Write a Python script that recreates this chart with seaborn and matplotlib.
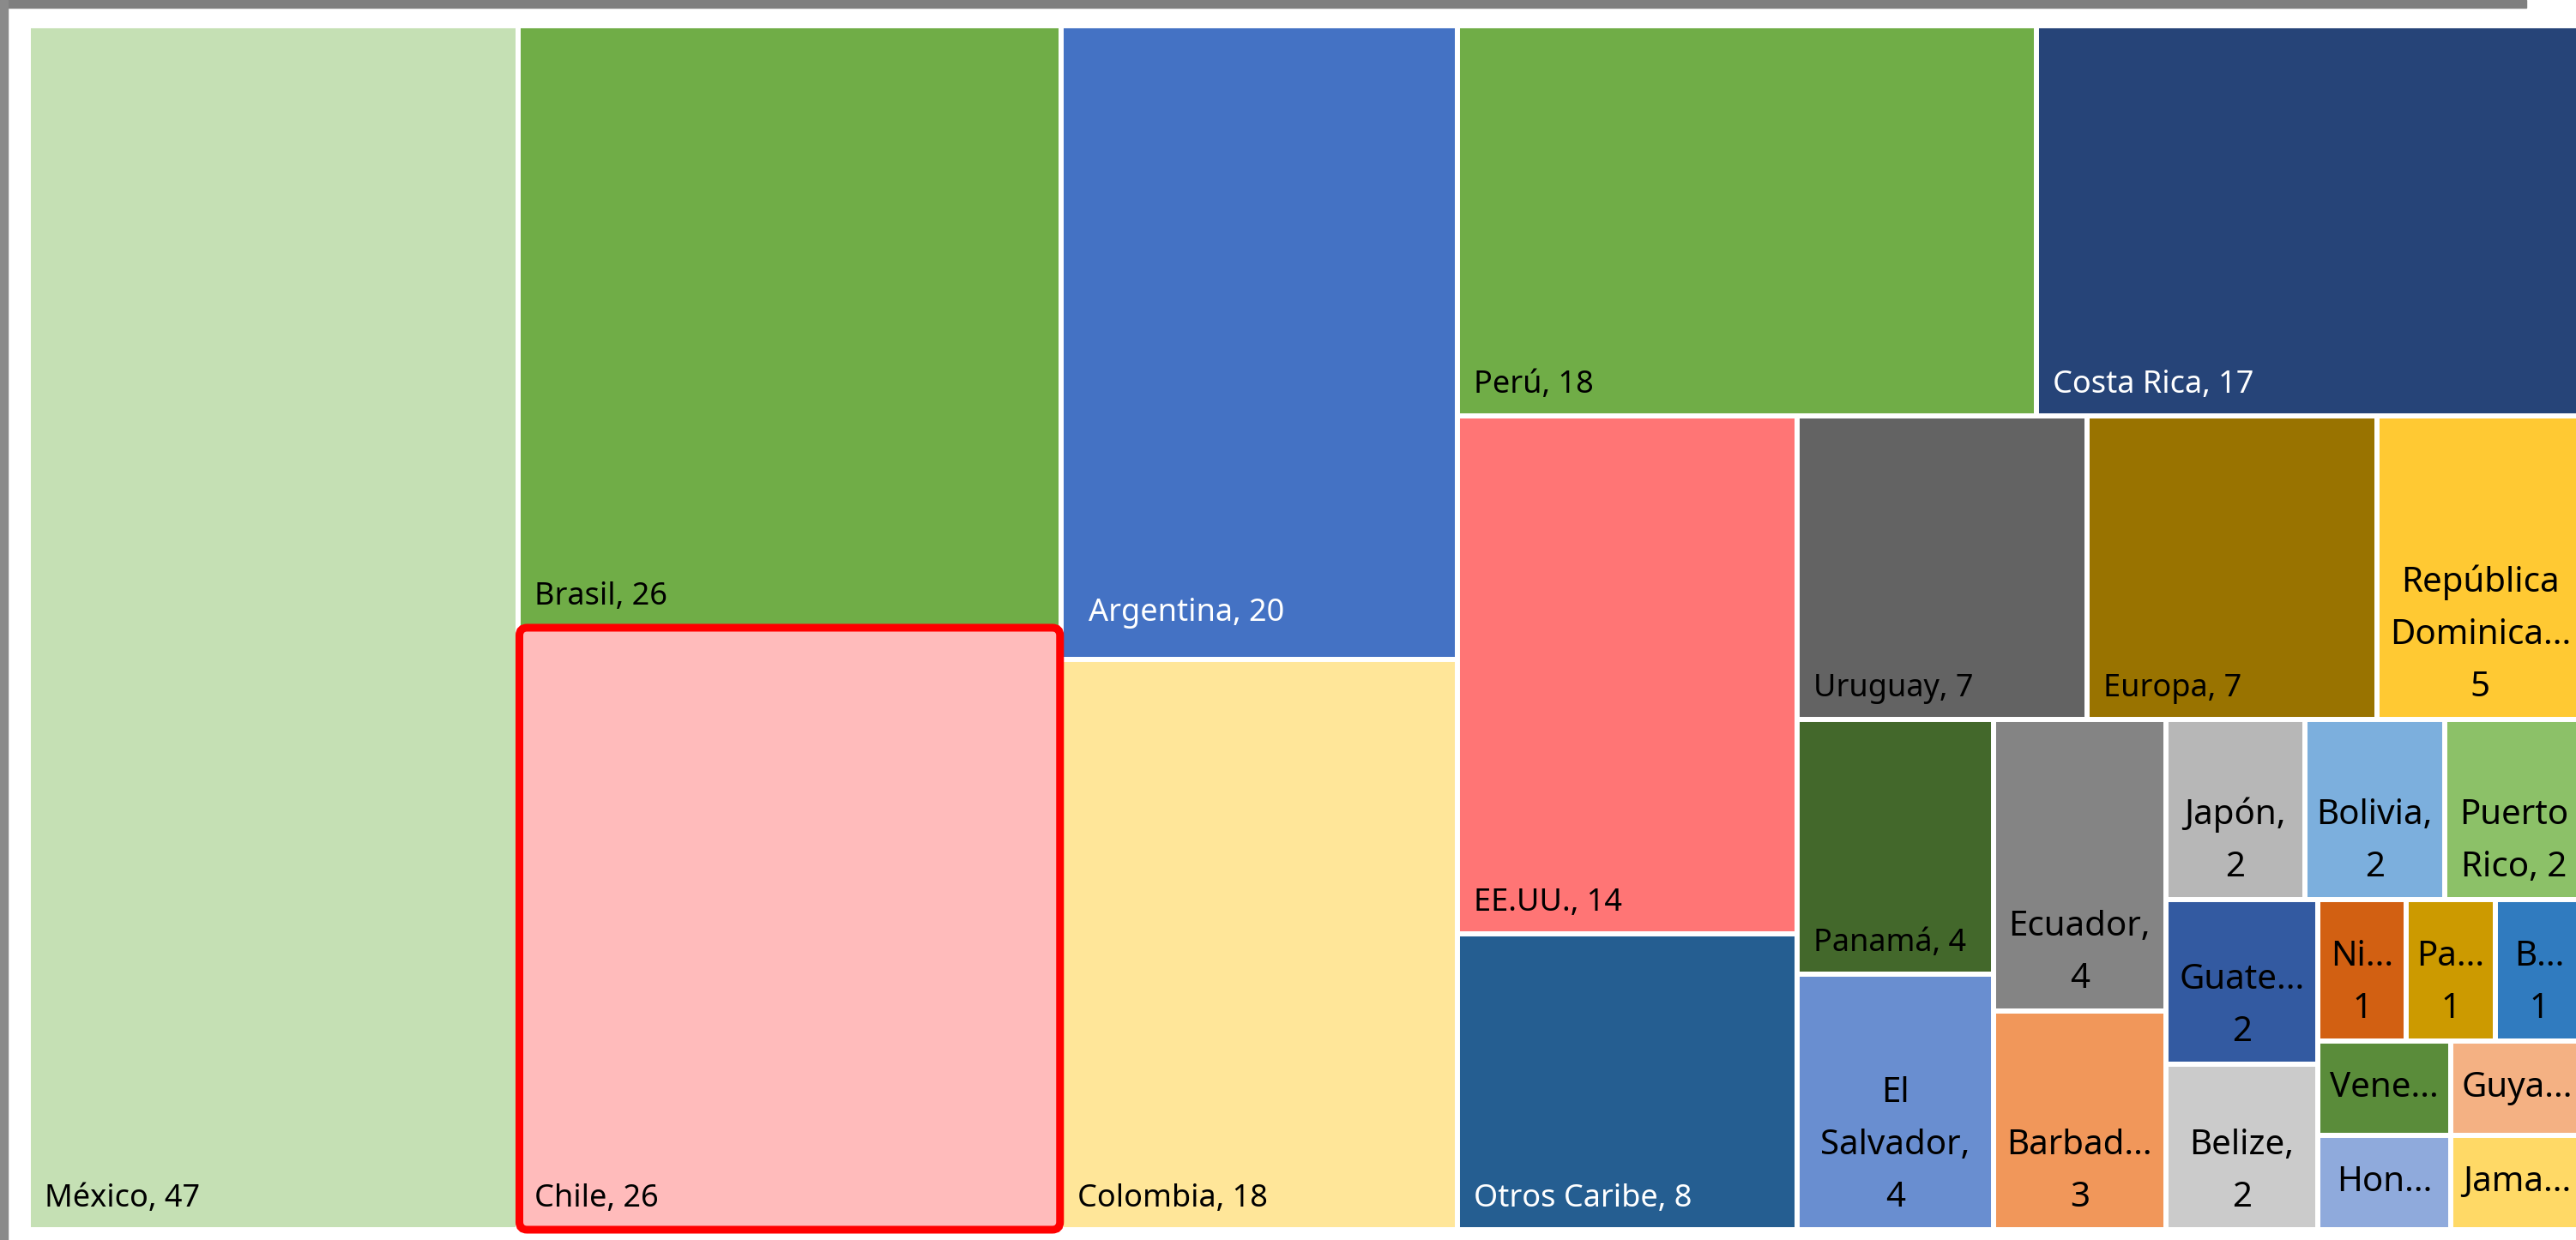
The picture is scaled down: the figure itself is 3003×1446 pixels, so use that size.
#Treemap de paises (estilo Excel) hecho con matplotlib + seaborn
#No hay treemap en seaborn, asi que armo las cajas a mano con un squarify por tiras
import matplotlib
matplotlib.use("Agg")
import matplotlib.pyplot as plt
from matplotlib.patches import Rectangle, FancyBboxPatch
import seaborn as sns

#Datos, de mayor a menor (el orden en que Excel los reparte)
paises = ["México", "Brasil", "Chile", "Argentina", "Colombia", "Perú", "Costa Rica",
          "EE.UU.", "Otros Caribe", "Uruguay", "Europa", "República Dominicana",
          "Panamá", "El Salvador", "Ecuador", "Barbados", "Japón", "Bolivia",
          "Puerto Rico", "Guatemala", "Belize", "Nicaragua", "Paraguay", "B...",
          "Venezuela", "Honduras", "Guyana", "Jamaica"]
valores = [47, 26, 26, 20, 18, 18, 17, 14, 8, 7, 7, 5, 4, 4, 4, 3,
           2, 2, 2, 2, 2, 1, 1, 1, 1, 1, 1, 1]
#Textos tal cual salen en el grafico (Excel corta los nombres que no caben)
etiquetas = ["México, 47", "Brasil, 26", "Chile, 26", "Argentina, 20", "Colombia, 18",
             "Perú, 18", "Costa Rica, 17", "EE.UU., 14", "Otros Caribe, 8", "Uruguay, 7",
             "Europa, 7", "República\nDominica...\n5", "Panamá, 4", "El\nSalvador,\n4",
             "Ecuador,\n4", "Barbad...\n3", "Japón,\n2", "Bolivia,\n2", "Puerto\nRico, 2",
             "Guate...\n2", "Belize,\n2", "Ni...\n1", "Pa...\n1", "B...\n1",
             "Vene...", "Hon...", "Guya...", "Jama..."]
colores = ["#C5E0B4", "#70AD47", "#FFBBBB", "#4472C4", "#FFE699", "#70AD47", "#264478",
           "#FF7575", "#255E91", "#636363", "#997300", "#FFC933", "#43682B", "#698ED0",
           "#848484", "#F1975A", "#B7B7B7", "#7CAFDD", "#8CC168", "#335AA1", "#CBCBCB",
           "#D26012", "#CC9A00", "#307BBF", "#5A8C3A", "#8FAADC", "#F4B183", "#FFD966"]
texto_blanco = ["Argentina", "Costa Rica", "Otros Caribe"]
#Cuantas cajas entran en cada tira del treemap
tiras = [1, 2, 2, 2, 2, 3, 2, 2, 3, 2, 3, 2, 2]
destacado = "Chile"

def layout(vals, tiras, w, h):
    #Cada tira va pegada al lado mas corto de lo que queda libre,
    #la ultima llena el hueco cortando a lo largo
    escala = w * h / sum(vals)
    x, y = 0.0, 0.0
    cajas = []
    i = 0
    for k, n in enumerate(tiras):
        grupo = vals[i:i + n]
        s = sum(grupo)
        if k == len(tiras) - 1:
            columna = h >= w
        else:
            columna = h <= w
        if columna:
            cw = s * escala / h
            yy = y
            for v in grupo:
                hh = h * v / s
                cajas.append((x, yy, cw, hh))
                yy += hh
            x += cw
            w -= cw
        else:
            rh = s * escala / w
            xx = x
            for v in grupo:
                ww = w * v / s
                cajas.append((xx, y, ww, rh))
                xx += ww
            y += rh
            h -= rh
        i += n
    return cajas

sns.set_theme(style="white")
plt.rcParams['font.family'] = ['Noto Sans', 'DejaVu Sans']

W_PX, H_PX = 3003, 1446
fig = plt.figure(figsize=(W_PX / 100, H_PX / 100), dpi=100)
fig.patch.set_facecolor("white")

#Borde gris de la captura (arriba y a la izquierda)
fig.patches.append(Rectangle((0, 1 - 9 / H_PX), 2945 / W_PX, 9 / H_PX,
                             transform=fig.transFigure, color="#7F7F7F", zorder=5))
fig.patches.append(Rectangle((0, 0), 9 / W_PX, 1, transform=fig.transFigure,
                             color="#8A8A8A", zorder=5))

#El area del treemap se sale un poco por la derecha, igual que en la captura
ancho, alto = 2979, 1404
ax = fig.add_axes([33 / W_PX, 12 / H_PX, ancho / W_PX, alto / H_PX])
ax.set_xlim(0, ancho)
ax.set_ylim(alto, 0)
ax.axis("off")

cajas = layout(valores, tiras, ancho, alto)
for nombre, etq, col, (x, y, w, h) in zip(paises, etiquetas, colores, cajas):
    ax.add_patch(Rectangle((x, y), w, h, facecolor=col, edgecolor="white", lw=4.3))
    color_txt = "white" if nombre in texto_blanco else "black"
    if "\n" in etq:
        #Varias lineas: centrado y apoyado abajo
        ax.text(x + w / 2, y + h - 17, etq, ha="center", va="bottom",
                multialignment="center", fontsize=29, color=color_txt, linespacing=1.7)
    elif "," not in etq:
        #Nombre cortado y sin valor: centrado en la caja
        ax.text(x + w / 2, y + h / 2, etq, ha="center", va="center",
                fontsize=29, color=color_txt)
    else:
        dx, dy = (13, 18) if nombre == "Argentina" else (0, 0)
        ax.text(x + 19 + dx, y + h - 18 - dy, etq, ha="left", va="bottom",
                fontsize=26, color=color_txt)
    if nombre == destacado:
        ax.add_patch(FancyBboxPatch((x + 1, y), w - 2, h, boxstyle="round,pad=0,rounding_size=9",
                                    facecolor="none", edgecolor="#FF0000", lw=6.5,
                                    clip_on=False, zorder=4))

plt.savefig("out.png", dpi=100, facecolor="white")
